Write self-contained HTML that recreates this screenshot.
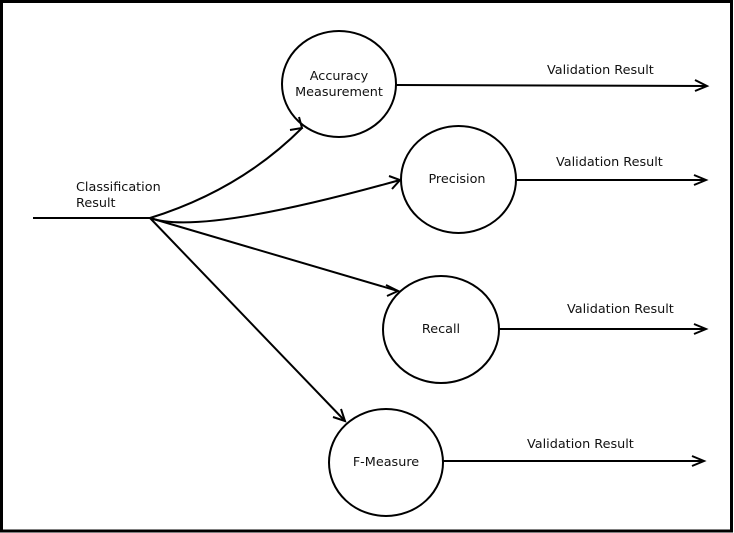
<!DOCTYPE html>
<html><head><meta charset="utf-8"><style>
html,body{margin:0;padding:0;background:#fff}
svg{display:block}
text{font-family:"DejaVu Sans","Liberation Sans",sans-serif;font-size:12.8px;fill:#111}
</style></head><body>
<svg width="734" height="533" viewBox="0 0 734 533" xmlns="http://www.w3.org/2000/svg">
<rect x="1.5" y="1.5" width="730" height="529.5" fill="#fff" stroke="#000" stroke-width="3"/>
<g fill="none" stroke="#000" stroke-width="2">
<ellipse cx="339" cy="84" rx="57" ry="53"/>
<ellipse cx="458.5" cy="179.5" rx="57.5" ry="53.5"/>
<ellipse cx="441" cy="329.5" rx="58" ry="53.5"/>
<ellipse cx="386" cy="462.5" rx="57" ry="53.5"/>
<line x1="33" y1="218" x2="150" y2="218"/>
<path d="M150,218 Q240,190 302,128"/>
<path d="M150,218 Q200,236 400,180"/>
<line x1="150" y1="218" x2="398" y2="291"/>
<line x1="150" y1="218" x2="345" y2="421"/>
<line x1="396" y1="85" x2="707" y2="86"/>
<line x1="516" y1="180" x2="706" y2="180"/>
<line x1="499" y1="329" x2="706" y2="329"/>
<line x1="443" y1="461" x2="704" y2="461"/>
<polyline points="695,80 707,86 695,91"/>
<polyline points="694,175 706,180 694,185"/>
<polyline points="694,324 706,329 694,334"/>
<polyline points="692,456 704,461 692,466"/>
<polyline points="290,130 302,128 299,117"/>
<polyline points="389,176 400,180 392,189"/>
<polyline points="386,285 398,291 387,296"/>
<polyline points="333,417 345,421 341,409"/>
</g>
<text x="339" y="80" text-anchor="middle">Accuracy</text>
<text x="339" y="96" text-anchor="middle">Measurement</text>
<text x="457" y="183" text-anchor="middle">Precision</text>
<text x="441" y="333" text-anchor="middle">Recall</text>
<text x="386" y="466" text-anchor="middle">F-Measure</text>
<text x="76" y="191">Classification</text>
<text x="76" y="207">Result</text>
<text x="547" y="74">Validation Result</text>
<text x="556" y="166">Validation Result</text>
<text x="567" y="313">Validation Result</text>
<text x="527" y="448">Validation Result</text>
</svg>
</body></html>
